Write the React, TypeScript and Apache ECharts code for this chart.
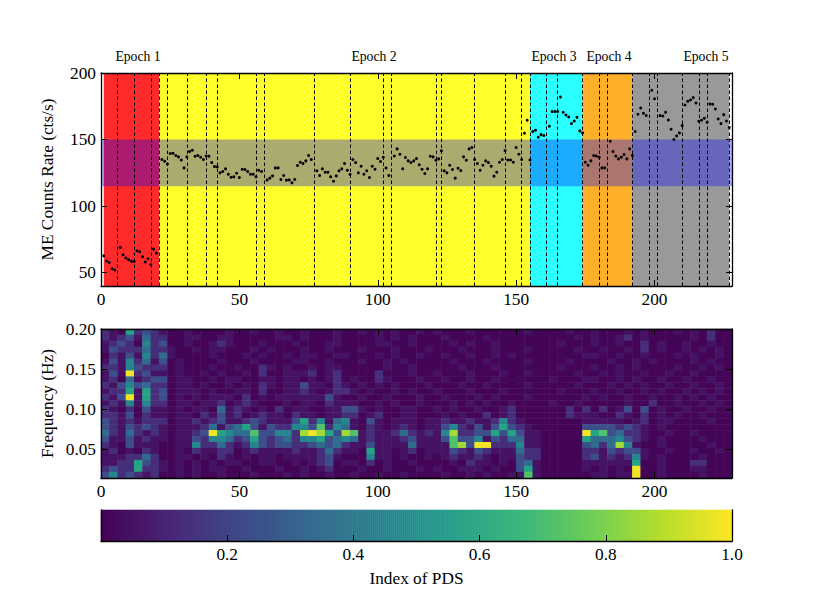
import { useEffect, useRef } from 'react';
import * as echarts from 'echarts';

// count rate per observation, index 1..227, null where no point is visible
const rates: (number | null)[] = [
    62.7, 58.7, 57.7, 53, 52, null, 69, 63.5, 61, 59.7, 58.5, 58.5, 66.5, 65.7, 62, 58, 60.5, 56, 67.7, 64.7, null,
    135, 133.7, 131.7, 139.5, 139.7, 138, 137, 134.7, 128.7, 137, 141, 142, 137.5, 138, 136.7, 135, 137.7, 137.5, 132.7,
    129.7, 129.5, 125, 126, 128, 124, 121.7, 122, 124.7, 121.5, 127.7, 127.5, 126, 124, 124, 122, 127, 126, null, 119.7,
    121, 122.7, 128.7, 128.7, 120, 123, 119.5, 119.7, 117.5, 120, 130.5, 133, 132, 134, 138, 135, null, 126.5, 123, 128,
    125.5, 125.5, 122, 118.7, 122.7, 126.5, 128, 132, 127, 123.7, 135, 132.7, 125, 130, 124, 126.5, 121.5, 130, 127.7, 135.7,
    133.5, 136.7, 128.7, 123, null, 137.7, 143, 139, 128, 136.5, 134, 132.7, 134, 135.7, 131, 127.7, 124.5, 128, 137.5, 137,
    134.5, 135.5, 141.5, 126.5, 125, 130.7, 127.5, 121, 128.5, 126.7, 137, 134.5, 143, 144, 135, 132, 127, 130.7, 134, 132.7,
    130, 122.5, 125.5, 133, 135, 141.7, 134.7, 134.7, 133, 144, 139, 135, 154.7, 164.5, 134.7, 156, 157, 151.7, 153.7, 153,
    null, 160, 171, 171, 171, 182, 170.5, 168.5, 167, 162, 164, 166.7, 156.5, 155, 133, 130.7, 134, 138, 137.7, 136.7,
    128.7, 128.7, null, 148.7, 141, 137.7, 135.5, 136.7, 138.7, 135.5, 143, 138, 156, 169, 173.7, 169.7, 168, null, 187, 180.7,
    null, 168, 167.7, 170.5, 164.7, 157.7, 150, 152.7, 155, 160.5, 176, 178.7, 179.7, 181.5, 177.5, 163.7, 164.5, 166, 163, 176.7,
    176.5, 173, 165.5, 162, 168.7, 164, 159,
];

const epochNames = ['Epoch 1', 'Epoch 2', 'Epoch 3', 'Epoch 4', 'Epoch 5'];
const epochEdges = [1, 21, 155, 174, 192, 227];
const epochColors = ['#ff2b2b', '#ffff2b', '#2bffff', '#ffb02b', '#999999'];
const epochLabelX = [138, 374, 554, 609, 706];
const gapLines = [6, 12, 18, 21, 24, 31, 38, 42, 56, 59, 77, 90, 102, 105, 121, 123, 135, 146, 152, 155, 161, 165, 174, 180, 183, 192, 198, 201, 210, 216, 219, 227];
const rateBand = [115, 150];

const xTicks = [0, 50, 100, 150, 200];
const rateTicks = [50, 100, 150, 200];
const freqTicks = [0.05, 0.1, 0.15, 0.2];
const barTicks = [0.2, 0.4, 0.6, 0.8, 1.0];
const viridis = ['#440154', '#482878', '#3e4a89', '#31688e', '#26828e', '#1f9e89', '#35b779', '#6ece58', '#b5de2b', '#fde725'];

// PDS power on a 76 x 25 grid, top row first, digit is an index into pdsLevels
const pdsLevels = [0.01, 0.05, 0.13, 0.24, 0.35, 0.46, 0.58, 0.72, 0.86, 0.98];
const pdsRows = [
    '2106232100 1000010010 0100100010 0101010010 1000100000 0100001001 0001010001 010200',
    '2123142200 1100110000 0110100010 0001010100 0100001000 0000000101 0012010000 010200',
    '1232052300 1001210001 0001000110 0001100100 0010100100 0000010001 0010020100 100100',
    '1322242210 0101100010 1000100100 0100010001 0001000100 0100000100 1001020100 101010',
    '0213152410 0001000101 0010110011 0001010010 0100100101 0000000011 0010010001 010010',
    '1315241301 0000100010 0001100100 0100101000 0010001000 0100001000 0100101000 010100',
    '2215322201 0001001002 1010010110 0000100100 0001000100 0000010001 0010100001 001010',
    '1319231101 0010100102 0011120120 0002000100 1000100010 0100000100 1010010010 010000',
    '1204123301 1001011001 1011010120 1002100010 0100100100 0000100011 0010100100 100100',
    '2135342201 1010010102 1011311021 0101010001 0001001000 0100000100 0101010010 010010',
    '1226162301 1101001102 0011210122 1010010100 1000100010 0000010001 0010010100 101010',
    '2139162301 0101110201 0111111310 0100100010 0100010100 0100000010 1001001001 010100',
    '1215152201 1011201210 0010110211 1001010010 0010101001 0000100100 0001002001 001010',
    '2102031101 0110412101 0201100113 3101001100 1010010012 0000002020 2013030100 100100',
    '2213021101 1021312012 1102110112 2012001100 0101002012 0000002111 0021020101 001000',
    '3212122201 1212311232 1113625145 1031011101 1211211252 1000000011 1110120110 000100',
    '3213232101 1124134631 3225537254 1021012101 1352131363 2100000033 3323210100 000000',
    '4214212101 1239654473 3552898638 7121124212 1582233636 3110000096 7342210010 010000',
    '3113121101 1325542363 2342556345 4121112311 1373351324 4110000064 4453210100 001000',
    '2103111001 1522421253 2332234342 1131111411 1178399222 5110000034 2485100100 000100',
    '1201021001 0211220121 1112112421 1061101201 1132132111 4220000022 1323310010 010010',
    '1112242001 1010210101 1011112310 0051101001 0121121011 3220000023 1212510100 001000',
    '1122632101 0101011001 1001012301 1020100100 0010211010 3410000011 1111600100 022000',
    '2322622101 0101100100 0100101200 0100100010 1001110100 3610000010 1010900100 011000',
    '3523212001 0100100010 0010100100 1001001000 0100101001 1710000001 1011900100 001000',
];

const pdsCells: number[][] = [];
pdsRows.forEach((row, r) => {
    row.replace(/ /g, '').split('').forEach((d, c) => {
        pdsCells.push([c, pdsRows.length - 1 - r, pdsLevels[Number(d)]]);
    });
});
const pdsCols = pdsRows[0].replace(/ /g, '').length;

const barSteps = 316;
const barCells: number[][] = [];
for (let i = 0; i < barSteps; i++) barCells.push([i, 0, (i + 0.5) / barSteps]);

const serif = 'Liberation Serif';
const fontSize = 17.3;

// one visible value axis; the opposite side repeats the ticks without labels
const valueAxis = (gridIndex: number, position: string, min: number, max: number, ticks: number[], extra = {}) => {
    const labelled = position === 'bottom' || position === 'left';
    return {
        type: 'value',
        gridIndex,
        position,
        min,
        max,
        z: 5,
        splitLine: { show: false },
        axisLine: { show: true, onZero: false, lineStyle: { color: '#000', width: 1.3 } },
        axisTick: { show: true, inside: true, length: 6, customValues: ticks, lineStyle: { color: '#000', width: 1 } },
        axisLabel: { show: labelled, inside: false, margin: 5, color: '#000', fontSize, fontFamily: serif, customValues: ticks },
        nameTextStyle: { color: '#000', fontSize, fontFamily: serif },
        nameMoveOverlap: false,
        ...extra,
    };
};

const hiddenCategory = (gridIndex: number, count: number) => ({
    type: 'category',
    gridIndex,
    show: false,
    data: Array.from({ length: count }, (_, i) => i),
});

const App = () => {
    const chartRef = useRef<HTMLDivElement | null>(null);

    useEffect(() => {
        if (!chartRef.current) return;
        const myChart = echarts.init(chartRef.current, undefined, { renderer: 'svg' });

        const plot = { left: 101, width: 631 };
        const topGrid = { ...plot, top: 73, height: 213 };
        const heatGrid = { ...plot, top: 329, height: 149 };
        const barGrid = { ...plot, top: 510, height: 31 };

        const option = {
            animation: false,
            textStyle: { fontFamily: serif },
            grid: [topGrid, heatGrid, heatGrid, barGrid, barGrid],
            xAxis: [
                valueAxis(0, 'bottom', 0, 228, xTicks),
                valueAxis(0, 'top', 0, 228, xTicks),
                hiddenCategory(1, pdsCols),
                valueAxis(2, 'bottom', 0, 228, xTicks),
                valueAxis(2, 'top', 0, 228, xTicks),
                hiddenCategory(3, barSteps),
                {
                    ...valueAxis(4, 'bottom', 0, 1, barTicks, { name: 'Index of PDS', nameLocation: 'middle', nameGap: 29 }),
                    axisLabel: { show: true, margin: 5, color: '#000', fontSize, fontFamily: serif, customValues: barTicks, formatter: (v: number) => v.toFixed(1) },
                },
            ],
            yAxis: [
                valueAxis(0, 'left', 40, 200, rateTicks, { name: 'ME Counts Rate (cts/s)', nameLocation: 'middle', nameGap: 45 }),
                valueAxis(0, 'right', 40, 200, rateTicks),
                hiddenCategory(1, pdsRows.length),
                {
                    ...valueAxis(2, 'left', 0.0138, 0.2, freqTicks, { name: 'Frequency (Hz)', nameLocation: 'middle', nameGap: 45 }),
                    axisLabel: { show: true, margin: 5, color: '#000', fontSize, fontFamily: serif, customValues: freqTicks, formatter: (v: number) => v.toFixed(2) },
                },
                valueAxis(2, 'right', 0.0138, 0.2, freqTicks),
                hiddenCategory(3, 1),
                { ...valueAxis(4, 'left', 0, 1, []), axisTick: { show: false }, axisLabel: { show: false } },
                { ...valueAxis(4, 'right', 0, 1, []), axisTick: { show: false }, axisLabel: { show: false } },
            ],
            visualMap: {
                show: false,
                type: 'continuous',
                min: 0,
                max: 1,
                dimension: 2,
                seriesIndex: [4, 5],
                inRange: { color: viridis },
            },
            series: [
                {
                    type: 'scatter',
                    xAxisIndex: 0,
                    yAxisIndex: 0,
                    z: 1,
                    data: [],
                    markArea: {
                        silent: true,
                        label: { show: false },
                        data: epochColors.map((color, i) => [
                            { xAxis: epochEdges[i], yAxis: 40, itemStyle: { color, opacity: 1 } },
                            { xAxis: epochEdges[i + 1], yAxis: 200 },
                        ]),
                    },
                },
                {
                    type: 'scatter',
                    xAxisIndex: 0,
                    yAxisIndex: 0,
                    z: 2,
                    data: [],
                    markArea: {
                        silent: true,
                        label: { show: false },
                        data: [[
                            { xAxis: 0, yAxis: rateBand[0], itemStyle: { color: '#0000ff', opacity: 0.33 } },
                            { xAxis: 228, yAxis: rateBand[1] },
                        ]],
                    },
                },
                {
                    type: 'scatter',
                    xAxisIndex: 0,
                    yAxisIndex: 0,
                    z: 3,
                    data: [],
                    markLine: {
                        silent: true,
                        symbol: 'none',
                        label: { show: false },
                        lineStyle: { color: '#000', type: [3.5, 2.5], width: 1 },
                        data: gapLines.map((x) => ({ xAxis: x })),
                    },
                },
                {
                    type: 'scatter',
                    xAxisIndex: 0,
                    yAxisIndex: 0,
                    z: 6,
                    symbolSize: 3,
                    itemStyle: { color: '#000', opacity: 1 },
                    data: rates.map((v, i) => (v === null ? [i + 1, '-'] : [i + 1, v])),
                },
                {
                    type: 'heatmap',
                    xAxisIndex: 2,
                    yAxisIndex: 2,
                    z: 2,
                    silent: true,
                    data: pdsCells,
                },
                {
                    type: 'heatmap',
                    xAxisIndex: 5,
                    yAxisIndex: 5,
                    z: 2,
                    silent: true,
                    data: barCells,
                },
            ],
            graphic: epochNames.map((name, i) => ({
                type: 'text',
                x: epochLabelX[i],
                y: 56,
                style: { text: name, fill: '#000', font: `13.7px "${serif}"`, textAlign: 'center', textVerticalAlign: 'middle' },
            })),
        };

        myChart.setOption(option);

        return () => {
            myChart.dispose();
        };
    }, []);

    return <div ref={chartRef} style={{ position: 'fixed', left: 0, top: 0, width: '814px', height: '610px', background: '#fff' }} />;
};

export default App;
